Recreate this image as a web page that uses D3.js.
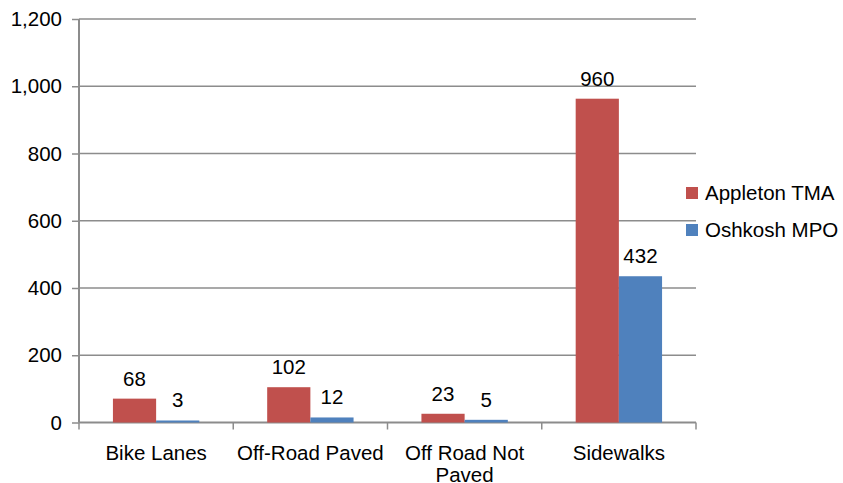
<!DOCTYPE html>
<html>
<head>
<meta charset="utf-8">
<script src="https://cdn.jsdelivr.net/npm/d3@7"></script>
<style>
  body { margin: 0; background: #fff; }
  text { font-family: "Liberation Sans", Arial, sans-serif; fill: #000; }
</style>
</head>
<body>
<svg id="chart"></svg>
<script>
const categories = ["Bike Lanes", "Off-Road Paved", "Off Road Not Paved", "Sidewalks"];
const seriesNames = ["Appleton TMA", "Oshkosh MPO"];
const appleton = [68, 102, 23, 960];
const oshkosh = [3, 12, 5, 432];
const yTicks = [0, 200, 400, 600, 800, 1000, 1200];
const colors = ["#C0504D", "#4F81BD"];

const width = 843, height = 483;
const margin = { top: 19, left: 79, bottom: 60.5, right: 147 };
const iwidth = width - margin.left - margin.right;
const iheight = height - margin.top - margin.bottom;
const fs = "20.5px";

const svg = d3.select("#chart").attr("width", width).attr("height", height);
const g = svg.append("g").attr("transform", `translate(${margin.left},${margin.top})`);

const y = d3.scaleLinear().domain([0, 1200]).range([iheight, 0]);
const x = d3.scaleBand().domain(categories).range([0, iwidth]).paddingInner(0).paddingOuter(0);
const barPad = 0.22;
const xs = d3.scaleBand().domain(seriesNames).range([x.bandwidth() * barPad, x.bandwidth() * (1 - barPad)]);

// gridlines
g.selectAll(".grid").data(yTicks.filter(d => d > 0)).enter().append("line")
  .attr("x1", 0).attr("x2", iwidth)
  .attr("y1", d => y(d)).attr("y2", d => y(d))
  .attr("stroke", "#8c8c8c").attr("stroke-width", 1.5);

// y axis
const yAxis = g.append("g").call(d3.axisLeft(y).tickValues(yTicks).tickSize(7).tickPadding(10).tickFormat(d3.format(",")));
yAxis.select(".domain").attr("stroke", "#8c8c8c").attr("stroke-width", 2).attr("d", `M0,${iheight}V0`);
yAxis.selectAll(".tick line").attr("stroke", "#8c8c8c").attr("stroke-width", 1.5);
yAxis.selectAll(".tick text").style("font-size", fs).attr("fill", "#000");

// x axis
const xAxis = g.append("g").attr("transform", `translate(0,${iheight})`)
  .call(d3.axisBottom(x).tickSize(0).tickPadding(0));
xAxis.select(".domain").attr("stroke", "#8c8c8c").attr("stroke-width", 2).attr("d", `M0,0H${iwidth}`);
xAxis.selectAll(".tick text").remove();
g.append("g").attr("transform", `translate(0,${iheight})`).selectAll("line")
  .data(categories.concat([null])).enter().append("line")
  .attr("x1", (d, i) => i * x.bandwidth()).attr("x2", (d, i) => i * x.bandwidth())
  .attr("y1", 0).attr("y2", 7)
  .attr("stroke", "#8c8c8c").attr("stroke-width", 1.5);

const data = categories.map((c, i) => ({ cat: c, vals: [appleton[i], oshkosh[i]] }));

const groups = g.selectAll(".grp").data(data).enter().append("g")
  .attr("transform", d => `translate(${x(d.cat)},0)`);

// bars drawn over the axis line, as in the original
groups.selectAll("rect").data(d => d.vals.map((v, j) => ({ s: seriesNames[j], v, j }))).enter().append("rect")
  .attr("x", d => xs(d.s)).attr("width", xs.bandwidth())
  .attr("y", d => y(d.v) - 1).attr("height", d => iheight - y(d.v) + 1)
  .attr("fill", d => colors[d.j]);

groups.selectAll(".val").data(d => d.vals.map((v, j) => ({ s: seriesNames[j], v, j }))).enter().append("text")
  .attr("x", d => xs(d.s) + xs.bandwidth() / 2)
  .attr("y", d => y(d.v) - 14)
  .attr("text-anchor", "middle")
  .style("font-size", fs)
  .text(d => d.v);

const labelLines = { "Off Road Not Paved": ["Off Road Not", "Paved"] };
categories.forEach(c => {
  const lines = labelLines[c] || [c];
  const t = g.append("text")
    .attr("x", x(c) + x.bandwidth() / 2)
    .attr("y", iheight + 37)
    .attr("text-anchor", "middle")
    .style("font-size", fs);
  lines.forEach((l, i) => t.append("tspan").attr("x", x(c) + x.bandwidth() / 2).attr("dy", i ? 22 : 0).text(l));
});

// legend
const legend = svg.append("g").attr("transform", "translate(686,187)");
seriesNames.forEach((s, i) => {
  const lg = legend.append("g").attr("transform", `translate(0,${i * 37})`);
  lg.append("rect").attr("width", 12).attr("height", 12).attr("fill", colors[i]);
  lg.append("text").attr("x", 19).attr("y", 6).attr("dy", "0.35em").style("font-size", fs).text(s);
});
</script>
</body>
</html>
